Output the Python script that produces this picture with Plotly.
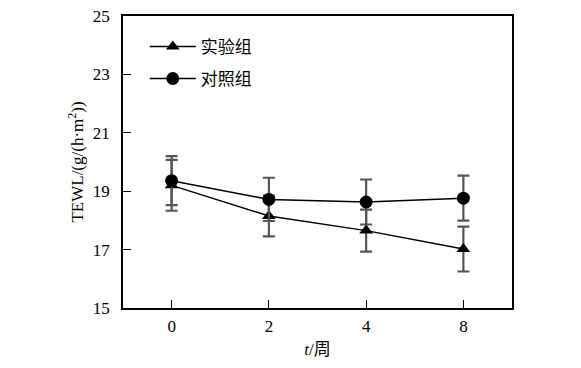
import plotly.graph_objects as go

weeks = ["0", "2", "4", "8"]
exp_mean = [19.20, 18.15, 17.65, 17.02]
exp_err = [0.87, 0.70, 0.72, 0.77]
ctrl_mean = [19.36, 18.72, 18.63, 18.76]
ctrl_err = [0.84, 0.74, 0.77, 0.77]
y_ticks = [15, 17, 19, 21, 23, 25]
series_names = ["实验组", "对照组"]

SERIF = "Liberation Serif, Times New Roman, serif"
CJK = "Noto Sans CJK SC"
ERR_COLOR = "#555555"

fig = go.Figure()

fig.add_trace(go.Scatter(
    x=weeks, y=exp_mean, mode="lines+markers", showlegend=False,
    line=dict(color="black", width=1.5),
    marker=dict(symbol="triangle-up", size=12, color="black"),
    error_y=dict(type="data", array=exp_err, visible=True, color=ERR_COLOR, thickness=2.2, width=6),
))
fig.add_trace(go.Scatter(
    x=weeks, y=ctrl_mean, mode="lines+markers", showlegend=False,
    line=dict(color="black", width=1.5),
    marker=dict(symbol="circle", size=13, color="black"),
    error_y=dict(type="data", array=ctrl_err, visible=True, color=ERR_COLOR, thickness=2.2, width=6),
))

# legend entries
for name, sym, sz in zip(series_names, ["triangle-up", "circle"], [12, 13]):
    fig.add_trace(go.Scatter(
        x=[None], y=[None], mode="lines+markers", name=name, legendgroup=name,
        line=dict(color="black", width=1.5),
        marker=dict(symbol=sym, size=sz, color="black"),
    ))

fig.update_layout(
    width=573, height=360,
    margin=dict(l=115, r=69, t=8, b=60, autoexpand=False),
    paper_bgcolor="white", plot_bgcolor="white",
    showlegend=True,
    legend=dict(
        x=0.056, y=0.956, xanchor="left", yanchor="top",
        bgcolor="rgba(0,0,0,0)", borderwidth=0,
        font=dict(family=CJK, size=17, color="black"),
        tracegroupgap=7, itemwidth=46,
    ),
    xaxis=dict(
        type="category", range=[-0.5, 3.5], automargin=False,
        showline=True, linecolor="black", linewidth=1.5, mirror=True,
        ticks="inside", ticklen=8, tickwidth=1.2, tickcolor="black",
        showgrid=False, zeroline=False,
        tickfont=dict(family=SERIF, size=17, color="black"),
        ticklabelstandoff=2, ticklabeloverflow="allow",
        title=dict(text="<i>t</i>/<span style='font-family:Noto Sans CJK SC'>周</span>",
                   font=dict(family=SERIF, size=17, color="black"), standoff=8),
    ),
    yaxis=dict(
        range=[15, 25], tickvals=y_ticks, automargin=False,
        showline=True, linecolor="black", linewidth=1.5, mirror=True,
        ticks="inside", ticklen=8, tickwidth=1.2, tickcolor="black",
        showgrid=False, zeroline=False,
        tickfont=dict(family=SERIF, size=17, color="black"),
        ticklabelstandoff=8, ticklabeloverflow="allow",
        title=dict(text="TEWL/(g/(h·m<sup>2</sup>))",
                   font=dict(family=SERIF, size=17, color="black"), standoff=5),
    ),
)

fig.write_html("out.html")
